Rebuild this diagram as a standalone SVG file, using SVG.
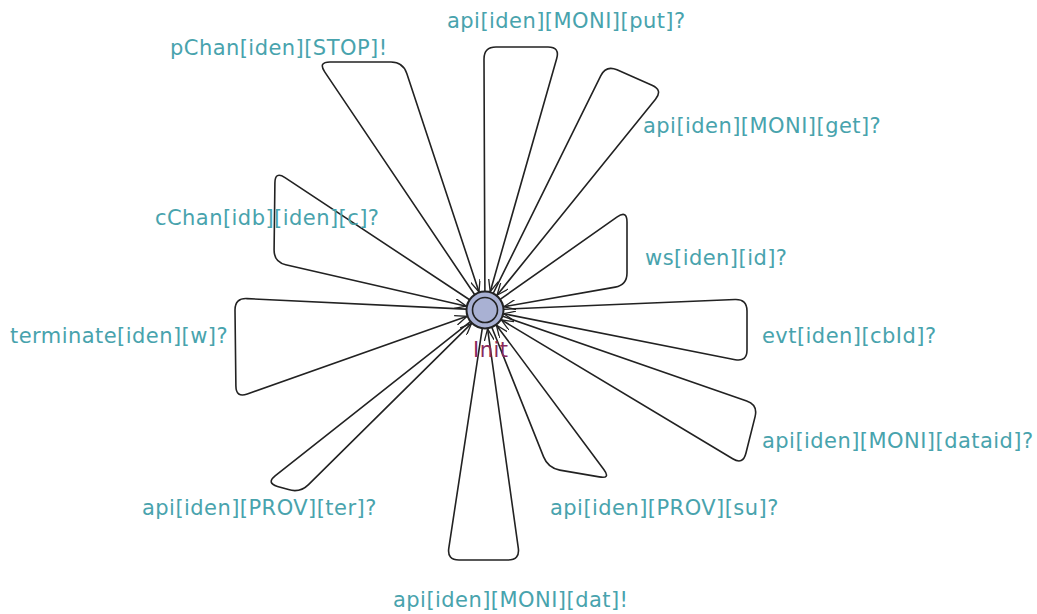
<svg xmlns="http://www.w3.org/2000/svg" width="1037" height="614" viewBox="0 0 1037 614">
<defs>
<style>
.edge{fill:none;stroke:#222;stroke-width:1.6;stroke-linejoin:round;marker-end:url(#arr)}
.lbl{font-family:"DejaVu Sans",Verdana,sans-serif;font-size:21px;letter-spacing:0.45px;fill:#48a3ad}
.name{font-family:"DejaVu Sans",Verdana,sans-serif;font-size:21px;letter-spacing:0.45px;fill:#8a2a5c}
</style>
<marker id="arr" viewBox="0 0 12 10" refX="12" refY="5" markerWidth="12" markerHeight="10" markerUnits="userSpaceOnUse" orient="auto">
<path d="M0,0 L12,5 L0,10" fill="none" stroke="#222" stroke-width="1.3"/>
</marker>
</defs>
<rect width="1037" height="614" fill="#fff"/>
<g id="connectors">
<path class="edge" d="M474.4,294.2 L324.7,71.9 Q318,62 330,62 L391,62 Q403,62 406.8,73.4 L479,292"/>
<path class="edge" d="M484.9,291 L484,59 Q484,47 496,47 L548,47 Q560,47 556.7,58.5 L490.2,291.7"/>
<path class="edge" d="M493.4,293 L600.7,75.8 Q606,65 617,69.8 L652,85.2 Q663,90 655.5,99.3 L497,295.2"/>
<path class="edge" d="M500.5,299.1 L617.2,216.9 Q627,210 627,222 L627,273 Q627,285 615.2,287.1 L503.7,306.7"/>
<path class="edge" d="M504,309.2 L735,299.5 Q747,299 747,311 L747,350 Q747,362 735.2,359.7 L503.6,313.7"/>
<path class="edge" d="M502.9,316.3 L746.7,401.1 Q758,405 755.1,416.6 L745.9,453.3 Q743,465 732.7,458.8 L501.3,319.8"/>
<path class="edge" d="M492,327.7 L543.6,456.9 Q548,468 559.8,470.1 L599.2,476.9 Q611,479 603.8,469.4 L496.4,325.2"/>
<path class="edge" d="M482.2,328.8 L448.8,548.1 Q447,560 459,560 L508,560 Q520,560 518.3,548.1 L487.6,328.8"/>
<path class="edge" d="M470.1,321.8 L275.4,475.6 Q266,483 277.5,486.4 L288.5,489.6 Q300,493 308.5,484.6 L471.5,323.4"/>
<path class="edge" d="M466,309.1 L247,298.6 Q235,298 235,310 L235.9,386 Q236,398 247.3,394 L467.1,316.3"/>
<path class="edge" d="M469.2,299.5 L285,177.6 Q275,171 274.9,183 L274.1,250 Q274,262 285.7,264.7 L466.5,306.2"/>
<text class="lbl" x="170" y="55">pChan[iden][STOP]!</text>
<text class="lbl" x="447" y="28">api[iden][MONI][put]?</text>
<text class="lbl" x="643" y="133">api[iden][MONI][get]?</text>
<text class="lbl" x="155" y="225">cChan[idb][iden][c]?</text>
<text class="lbl" x="645" y="265">ws[iden][id]?</text>
<text class="lbl" x="10" y="343">terminate[iden][w]?</text>
<text class="lbl" x="762" y="343">evt[iden][cbId]?</text>
<text class="lbl" x="762" y="448">api[iden][MONI][dataid]?</text>
<text class="lbl" x="142" y="515">api[iden][PROV][ter]?</text>
<text class="lbl" x="550" y="515">api[iden][PROV][su]?</text>
<text class="lbl" x="393" y="607">api[iden][MONI][dat]!</text>
</g>
<g id="Init">
<circle cx="485" cy="310" r="18.5" fill="#a9b1d3" stroke="#222" stroke-width="2"/>
<circle cx="485" cy="310" r="12.5" fill="none" stroke="#222" stroke-width="1.6"/>
<text class="name" x="473" y="357">Init</text>
</g>
</svg>
